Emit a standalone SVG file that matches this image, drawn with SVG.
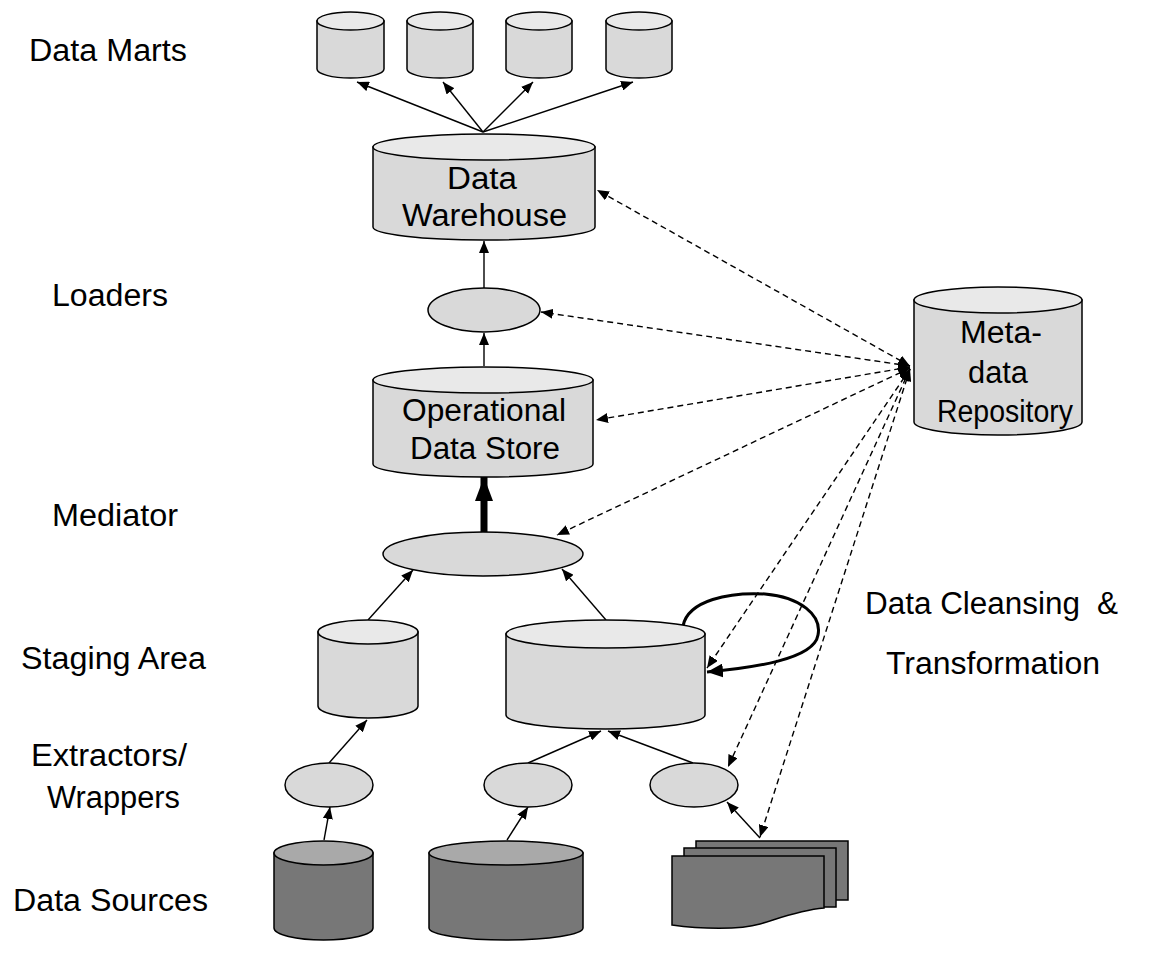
<svg xmlns="http://www.w3.org/2000/svg" width="1176" height="956" viewBox="0 0 1176 956">
<style>
text{font-family:"Liberation Sans",Arial,sans-serif;font-size:31px;fill:#000}
.body{fill:#d9d9d9;stroke:#000;stroke-width:1.5}
.top{fill:#e9e9e9;stroke:#000;stroke-width:1.5}
.dbody{fill:#777;stroke:#000;stroke-width:1.5}
.dtop{fill:#a9a9a9;stroke:#000;stroke-width:1.5}
.ell{fill:#d9d9d9;stroke:#000;stroke-width:1.5}
.sol{fill:none;stroke:#000;stroke-width:1.4;marker-end:url(#ah)}
.dash{fill:none;stroke:#000;stroke-width:1.4;stroke-dasharray:6 4;marker-end:url(#ah);marker-start:url(#ahs)}
</style>
<defs>
<marker id="ah" markerUnits="userSpaceOnUse" markerWidth="12" markerHeight="10" refX="12" refY="5" orient="auto"><path d="M0,0 L12,5 L0,10 z" fill="#000"/></marker>
<marker id="ahs" markerUnits="userSpaceOnUse" markerWidth="12" markerHeight="10" refX="12" refY="5" orient="auto-start-reverse"><path d="M0,0 L12,5 L0,10 z" fill="#000"/></marker>
<marker id="thick" markerUnits="userSpaceOnUse" markerWidth="24" markerHeight="18" refX="24" refY="9" orient="auto"><path d="M0,0 L24,9 L0,18 z" fill="#000"/></marker>
<marker id="loop" markerUnits="userSpaceOnUse" markerWidth="16" markerHeight="14" refX="16" refY="7" orient="auto"><path d="M0,0 L16,7 L0,14 z" fill="#000"/></marker>
</defs>

<g id="labels">
<text x="29" y="61" textLength="158" lengthAdjust="spacingAndGlyphs">Data Marts</text>
<text x="52" y="306" textLength="116" lengthAdjust="spacingAndGlyphs">Loaders</text>
<text x="52" y="526" textLength="126" lengthAdjust="spacingAndGlyphs">Mediator</text>
<text x="21" y="669" textLength="185" lengthAdjust="spacingAndGlyphs">Staging Area</text>
<text x="31" y="766" textLength="156" lengthAdjust="spacingAndGlyphs">Extractors/</text>
<text x="47" y="808" textLength="133" lengthAdjust="spacingAndGlyphs">Wrappers</text>
<text x="13" y="911" textLength="195" lengthAdjust="spacingAndGlyphs">Data Sources</text>
<text x="865" y="614" textLength="215" lengthAdjust="spacingAndGlyphs">Data Cleansing</text>
<text x="1097" y="614" textLength="21" lengthAdjust="spacingAndGlyphs">&amp;</text>
<text x="886" y="674" textLength="214" lengthAdjust="spacingAndGlyphs">Transformation</text>
</g>

<g id="connectors">
<line class="sol" x1="483" y1="132" x2="357" y2="82"/>
<line class="sol" x1="483" y1="132" x2="443" y2="82"/>
<line class="sol" x1="483" y1="132" x2="533" y2="82"/>
<line class="sol" x1="483" y1="132" x2="633" y2="82"/>
<line class="sol" x1="484" y1="288" x2="484" y2="241"/>
<line class="sol" x1="484" y1="366" x2="484" y2="333"/>
<line x1="484" y1="532" x2="484" y2="477" stroke="#000" stroke-width="7" marker-end="url(#thick)"/>
<line class="sol" x1="368" y1="620" x2="413" y2="570"/>
<line class="sol" x1="606" y1="620" x2="562" y2="569"/>
<line class="sol" x1="329" y1="763" x2="367" y2="720"/>
<line class="sol" x1="528" y1="763" x2="601" y2="731"/>
<line class="sol" x1="693" y1="763" x2="608" y2="731"/>
<line class="sol" x1="324" y1="840" x2="330" y2="807"/>
<line class="sol" x1="507" y1="840" x2="528" y2="807"/>
<line class="sol" x1="760" y1="838" x2="727" y2="802"/>
<path d="M683,626 C688,600 730,592 765,594 C800,597 822,615 818,635 C814,660 750,668 707,672" fill="none" stroke="#000" stroke-width="3" marker-end="url(#loop)"/>
<line class="dash" x1="910" y1="366" x2="597" y2="190"/>
<line class="dash" x1="910" y1="366" x2="541" y2="312"/>
<line class="dash" x1="910" y1="367" x2="596" y2="420"/>
<line class="dash" x1="910" y1="368" x2="557" y2="535"/>
<line class="dash" x1="910" y1="369" x2="707" y2="668"/>
<line class="dash" x1="910" y1="369" x2="728" y2="767"/>
<line class="dash" x1="910" y1="369" x2="760" y2="837"/>
</g>

<g id="mart1"><path class="body" d="M317,21 V69 A33.5,9 0 0 0 384,69 V21 Z"/><ellipse class="top" cx="350.5" cy="21" rx="33.5" ry="9"/></g>
<g id="mart2"><path class="body" d="M407,21 V69 A33,9 0 0 0 473,69 V21 Z"/><ellipse class="top" cx="440" cy="21" rx="33" ry="9"/></g>
<g id="mart3"><path class="body" d="M506,21 V69 A33,9 0 0 0 572,69 V21 Z"/><ellipse class="top" cx="539" cy="21" rx="33" ry="9"/></g>
<g id="mart4"><path class="body" d="M606,21 V69 A33,9 0 0 0 672,69 V21 Z"/><ellipse class="top" cx="639" cy="21" rx="33" ry="9"/></g>

<g id="warehouse"><path class="body" d="M373,147 V227 A111,13 0 0 0 595,227 V147 Z"/><ellipse class="top" cx="484" cy="147" rx="111" ry="13"/>
<text x="482" y="189" text-anchor="middle" textLength="70" lengthAdjust="spacingAndGlyphs">Data</text>
<text x="484.5" y="226" text-anchor="middle" textLength="165" lengthAdjust="spacingAndGlyphs">Warehouse</text></g>

<g id="loader"><ellipse class="ell" cx="484" cy="310" rx="56" ry="22"/></g>

<g id="ods"><path class="body" d="M373,380 V464 A110,13 0 0 0 593,464 V380 Z"/><ellipse class="top" cx="483" cy="380" rx="110" ry="13"/>
<text x="484" y="421" text-anchor="middle" textLength="164" lengthAdjust="spacingAndGlyphs">Operational</text>
<text x="485" y="459" text-anchor="middle" textLength="150" lengthAdjust="spacingAndGlyphs">Data Store</text></g>

<g id="mediator"><ellipse class="ell" cx="483" cy="554" rx="100" ry="22"/></g>

<g id="metadata"><path class="body" d="M914,300 V422 A84,13 0 0 0 1082,422 V300 Z"/><ellipse class="top" cx="998" cy="300" rx="84" ry="13"/>
<text x="1001" y="343" text-anchor="middle" textLength="82" lengthAdjust="spacingAndGlyphs">Meta-</text>
<text x="998" y="383" text-anchor="middle" textLength="60" lengthAdjust="spacingAndGlyphs">data</text>
<text x="1005" y="422" text-anchor="middle" textLength="136" lengthAdjust="spacingAndGlyphs">Repository</text></g>

<g id="staging1"><path class="body" d="M318,632 V706 A50,12 0 0 0 418,706 V632 Z"/><ellipse class="top" cx="368" cy="632" rx="50" ry="12"/></g>
<g id="staging2"><path class="body" d="M506,634 V715 A99.5,14 0 0 0 705,715 V634 Z"/><ellipse class="top" cx="605.5" cy="634" rx="99.5" ry="14"/></g>

<g id="extractor1"><ellipse class="ell" cx="329" cy="785" rx="44" ry="22"/></g>
<g id="extractor2"><ellipse class="ell" cx="528" cy="785" rx="44" ry="22"/></g>
<g id="extractor3"><ellipse class="ell" cx="694" cy="785" rx="44" ry="22"/></g>

<g id="source1"><path class="dbody" d="M274,853 V928 A49.5,12 0 0 0 373,928 V853 Z"/><ellipse class="dtop" cx="323.5" cy="853" rx="49.5" ry="12"/></g>
<g id="source2"><path class="dbody" d="M429,853 V928 A77,12 0 0 0 583,928 V853 Z"/><ellipse class="dtop" cx="506" cy="853" rx="77" ry="12"/></g>
<g id="documents">
<rect class="dbody" x="696" y="841" width="152" height="59"/>
<rect class="dbody" x="684" y="848" width="152" height="59"/>
<path class="dbody" d="M672,856 H824 V908 C800,910 780,918 760,924 C740,930 700,929 672,925 Z"/>
</g>
</svg>
